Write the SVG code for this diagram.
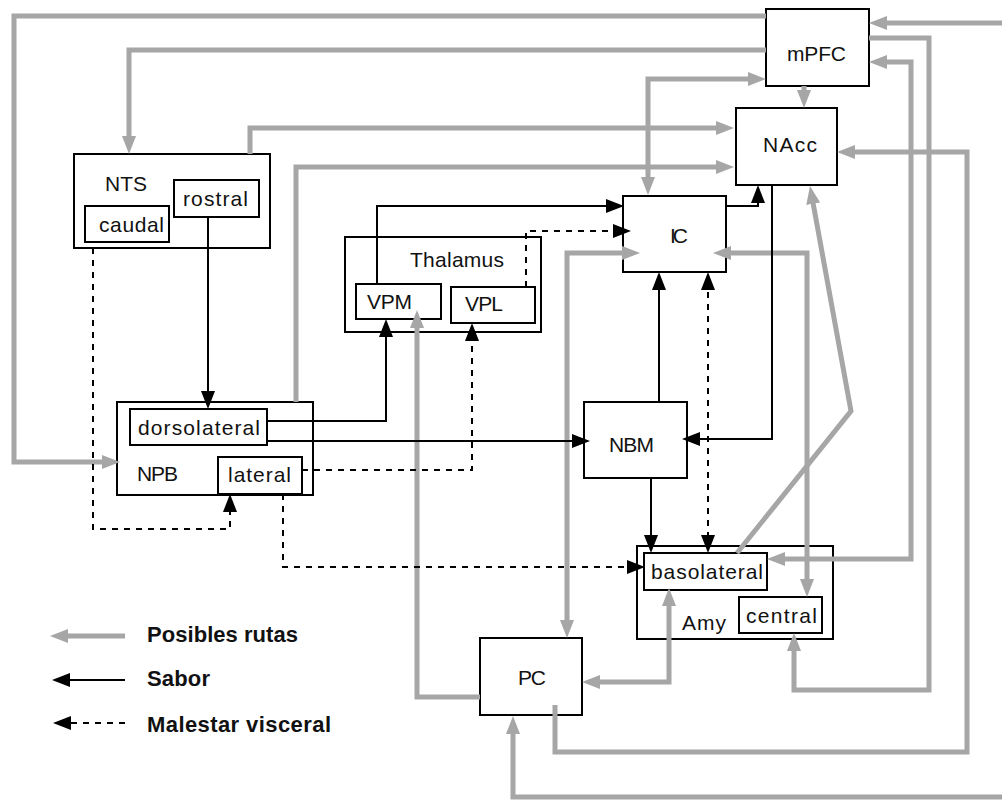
<svg xmlns="http://www.w3.org/2000/svg" width="1002" height="803" viewBox="0 0 1002 803">
<defs>
<style>
.box{fill:#fff;stroke:#000;stroke-width:2}
.sub{fill:#fff;stroke:#000;stroke-width:2}
.lbl{font-family:"Liberation Sans",Arial,sans-serif;font-size:21px;fill:#111}
.leg{font-family:"Liberation Sans",Arial,sans-serif;font-size:22px;font-weight:bold;fill:#111}
.g{fill:none;stroke:#a6a6a6;stroke-width:5;marker-end:url(#ga)}
.g2{marker-start:url(#ga)}
.b{fill:none;stroke:#000;stroke-width:2;marker-end:url(#ba)}
.b2{marker-start:url(#ba)}
.d{stroke-dasharray:6 6}
</style>
<marker id="ga" markerUnits="userSpaceOnUse" viewBox="0 0 18 14" markerWidth="18" markerHeight="14" refX="10" refY="7" orient="auto-start-reverse">
<path d="M0,0 L18,7 L0,14 z" fill="#a6a6a6"/>
</marker>
<marker id="ba" markerUnits="userSpaceOnUse" viewBox="0 0 18 14" markerWidth="18" markerHeight="14" refX="15" refY="7" orient="auto-start-reverse">
<path d="M0,0 L18,7 L0,14 z" fill="#000"/>
</marker>
</defs>
<rect width="1002" height="803" fill="#fff"/>

<g id="mPFC"><rect class="box" x="766" y="9" width="103" height="77"/><text class="lbl" x="787" y="61" textLength="59" lengthAdjust="spacing">mPFC</text></g>
<g id="NAcc"><rect class="box" x="736" y="108" width="101" height="77"/><text class="lbl" x="763" y="152" textLength="54" lengthAdjust="spacing">NAcc</text></g>
<g id="NTS"><rect class="box" x="74" y="154" width="196" height="94"/><text class="lbl" x="105" y="191" textLength="42" lengthAdjust="spacing">NTS</text>
<g id="rostral"><rect class="sub" x="174" y="180" width="85" height="37"/><text class="lbl" x="183" y="206" textLength="65" lengthAdjust="spacing">rostral</text></g>
<g id="caudal"><rect class="sub" x="85" y="206" width="84" height="36"/><text class="lbl" x="99" y="232" textLength="65" lengthAdjust="spacing">caudal</text></g></g>
<g id="Thalamus"><rect class="box" x="345" y="237" width="196" height="95"/><text class="lbl" x="410" y="267" textLength="94" lengthAdjust="spacing">Thalamus</text>
<g id="VPM"><rect class="sub" x="356" y="284" width="85" height="35"/><text class="lbl" x="367" y="309" textLength="45" lengthAdjust="spacing">VPM</text></g>
<g id="VPL"><rect class="sub" x="451" y="287" width="84" height="36"/><text class="lbl" x="465" y="311" textLength="38" lengthAdjust="spacing">VPL</text></g></g>
<g id="IC"><rect class="box" x="623" y="196" width="103" height="76"/><text class="lbl" x="670" y="243" textLength="18" lengthAdjust="spacing">IC</text></g>
<g id="NPB"><rect class="box" x="117" y="402" width="196" height="93"/><text class="lbl" x="137" y="481" textLength="41" lengthAdjust="spacing">NPB</text>
<g id="dorsolateral"><rect class="sub" x="130" y="409" width="137" height="36"/><text class="lbl" x="138" y="435" textLength="122" lengthAdjust="spacing">dorsolateral</text></g>
<g id="lateral"><rect class="sub" x="218" y="457" width="84" height="37"/><text class="lbl" x="228" y="482" textLength="63" lengthAdjust="spacing">lateral</text></g></g>
<g id="NBM"><rect class="box" x="584" y="402" width="103" height="76"/><text class="lbl" x="609" y="452" textLength="45" lengthAdjust="spacing">NBM</text></g>
<g id="Amy"><rect class="box" x="637" y="546" width="196" height="93"/><text class="lbl" x="682" y="630" textLength="44" lengthAdjust="spacing">Amy</text>
<g id="basolateral"><rect class="sub" x="644" y="553" width="123" height="37"/><text class="lbl" x="651" y="579" textLength="112" lengthAdjust="spacing">basolateral</text></g>
<g id="central"><rect class="sub" x="739" y="597" width="83" height="36"/><text class="lbl" x="746" y="623" textLength="71" lengthAdjust="spacing">central</text></g></g>
<g id="PC"><rect class="box" x="480" y="638" width="102" height="77"/><text class="lbl" x="518" y="685" textLength="28" lengthAdjust="spacing">PC</text></g>

<g id="connectors">
<!-- gray: possible routes -->
<path class="g" d="M766,16 H14 V462 H112"/>
<path class="g" d="M766,50 H129 V146"/>
<path class="g g2" d="M758,79 H648 V187"/>
<path class="g" d="M250,154 V128 H726"/>
<path class="g" d="M296,402 V167 H726"/>
<path class="g g2" d="M632,253 H567 V630"/>
<path class="g g2" d="M721,253 H807 V589"/>
<path class="g" d="M804,86 V100"/>
<path class="g" d="M1002,23 H877"/>
<path class="g" d="M1002,797 H513 V724"/>
<path class="g g2" d="M775,559 H911 V62 H877"/>
<path class="g" d="M869,38 H929 V690 H794 V641"/>
<path class="g" d="M555,705 V752 H967 V152 H845"/>
<path class="g" d="M737,553 L851,411 L811.4,193.9"/>
<path class="g" d="M480,697 H417 V318"/>
<path class="g g2" d="M590,682 H669 V596"/>
<!-- black: taste -->
<path class="b" d="M208,217 V406"/>
<path class="b" d="M267,421 H386 V322"/>
<path class="b" d="M267,441 H587"/>
<path class="b" d="M377,284 V206 H621"/>
<path class="b" d="M726,206 H758 V188"/>
<path class="b" d="M772,185 V439 H685"/>
<path class="b" d="M659,402 V275"/>
<path class="b" d="M651,478 V550"/>
<!-- dashed: visceral malaise -->
<path class="b d" d="M526,287 V231 H628"/>
<path class="b d" d="M302,470 H472 V326"/>
<path class="b d" d="M93,248 V529 H230 V497"/>
<path class="b d" d="M283,494 V567 H642"/>
<path class="b b2 d" d="M708,550 V275"/>
</g>

<g id="legend">
<path class="g" d="M125,636 H58"/>
<path class="b" d="M125,680 H55"/>
<path class="b d" d="M125,723 H56"/>
<text class="leg" x="147" y="642" textLength="151" lengthAdjust="spacing">Posibles rutas</text>
<text class="leg" x="147" y="686" textLength="63" lengthAdjust="spacing">Sabor</text>
<text class="leg" x="147" y="732" textLength="184" lengthAdjust="spacing">Malestar visceral</text>
</g>
</svg>
